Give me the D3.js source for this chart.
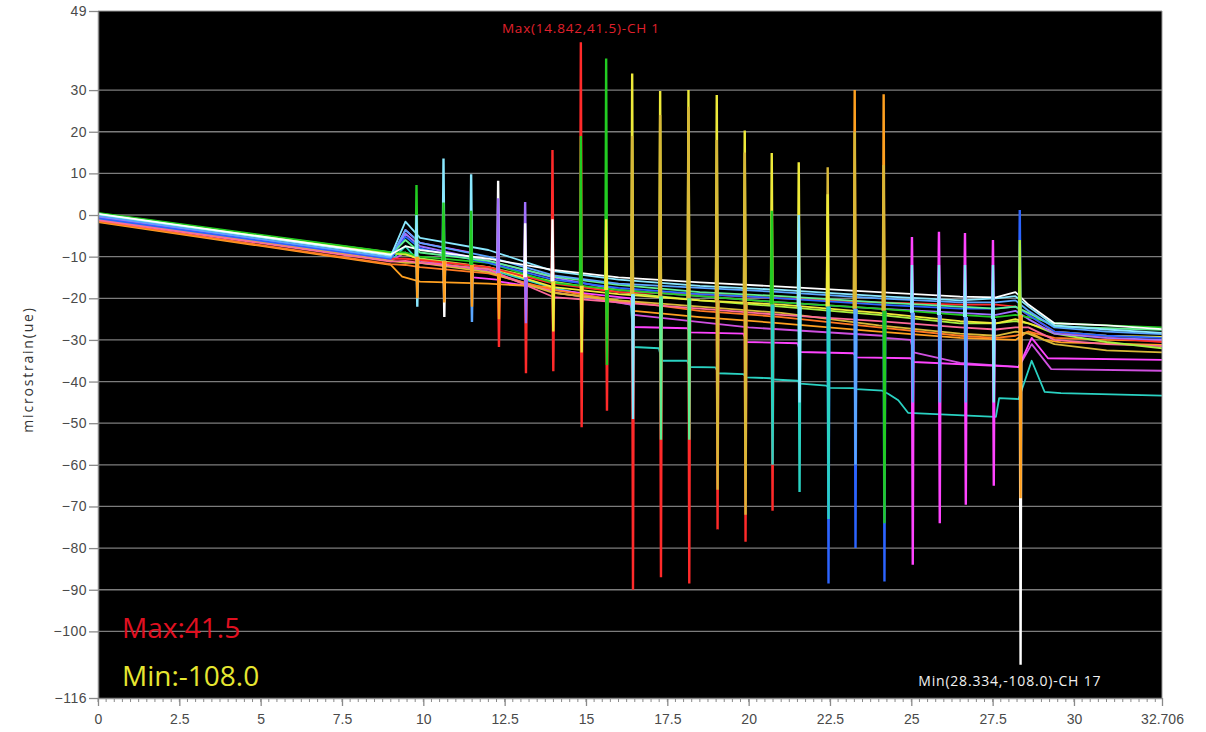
<!DOCTYPE html>
<html><head><meta charset="utf-8">
<script src="https://cdn.jsdelivr.net/npm/d3@7/dist/d3.min.js"></script>
<style>
body{margin:0;background:#fff;}
svg{display:block;font-family:"Open Sans","Noto Sans",sans-serif;}
</style>
</head><body>
<svg id="chart" width="1206" height="732"></svg>
<script>
// ---------- DATA ----------
const xTickValues = [0, 2.5, 5, 7.5, 10, 12.5, 15, 17.5, 20, 22.5, 25, 27.5, 30, 32.706];
const yTickValues = [49, 30, 20, 10, 0, -10, -20, -30, -40, -50, -60, -70, -80, -90, -100, -116];
const xDomain = [0, 32.706];
const yDomain = [-116, 49];

// baseline knots shared by the "band" channels (time, s)
const knotTimes = [0, 9.0, 9.45, 9.9, 12, 14, 16, 18.5, 21, 24, 26.5, 27.6, 28.2, 28.6, 29.4, 31, 32.706];
const ch1  = [-0.3, -10.5, -10.5, -10.8, -12.5, -16.5, -18.5, -19, -20, -21, -21.5, -21.5, -22, -24, -28, -29.5, -30.5];
const ch2  = [0.5, -8.9, -9, -10, -11.5, -16.3, -18, -19.5, -21, -22.5, -24, -24.5, -24, -24.5, -26, -26.5, -27];
const ch3  = [0.2, -9.0, -9.3, -10.8, -12.5, -17.3, -19, -20.5, -21.5, -23.5, -25.5, -26, -25, -26, -28, -29, -29.3];
const ch5  = [-0.8, -10.5, -5.2, -8, -11.5, -15.5, -17.5, -19, -20, -21.5, -22.5, -22.5, -22, -24, -28, -29, -29.5];
const ch9  = [-0.2, -10.2, -3.6, -6.7, -10, -14.5, -16.5, -17.5, -18.5, -20, -21, -21, -20.5, -23, -27, -28, -28.6];
const ch10 = [0.4, -9.2, -9.5, -10.4, -12.5, -16, -18.5, -20.5, -22, -24, -26, -26, -25.5, -26, -28.5, -30.5, -32];
const ch11 = [-1.2, -11.2, -11, -11.5, -13, -19.7, -21, -22.5, -24, -25.5, -27, -27.5, -27, -27, -30, -31, -31.5];
const ch12 = [-0.5, -10.3, -4.5, -7.5, -11, -15, -18, -19.5, -21, -22.5, -23.5, -24, -23, -25, -28.5, -29.5, -30];
const ch13 = [-1, -11, -11.5, -11.5, -13.7, -18.7, -20.5, -22, -23.5, -26.5, -28.5, -29, -28, -28.5, -31, -32.5, -33];
const ch14 = [0.2, -9.8, -1.6, -5.5, -8.4, -13.5, -15.5, -17, -18, -19.5, -20.5, -20, -19.5, -22, -26.5, -27.5, -28.3];
const ch15 = [-1.5, -11.8, -12, -12.5, -14, -18, -20.5, -23, -24.5, -27, -29, -29.5, -29, -28, -29.5, -30, -30.2];
const ch16 = [0, -9.6, -6, -9, -11, -14.8, -16.8, -18.5, -19.5, -21, -22, -22.5, -22, -23.5, -26.8, -27.2, -27.6];
const ch17 = [0.3, -9.5, -7.5, -8.4, -10.5, -13.2, -15, -16.2, -17.2, -18.5, -19.6, -19.8, -18.5, -21.5, -26, -26.5, -27.4];

// channels with their own step-like knots: [time, microstrain]
const ch4 = [[0,-1.7],[9.0,-12],[9.35,-14.8],[9.9,-16],[12,-16.5],[13.93,-17.3],[14.02,-18.7],[16.38,-21],[16.47,-23],[18.5,-24.5],[21,-26],[24,-28],[26.5,-29.5],[28.2,-30],[28.6,-28],[29.1,-30],[29.6,-30.6],[32.706,-31.2]];
const ch6 = [[0,-1],[9.0,-11],[9.45,-7.5],[9.9,-11.5],[12,-13],[14,-17.5],[16.38,-21.5],[16.47,-31.7],[17.24,-32],[17.33,-35],[18.11,-35],[18.2,-36.5],[18.98,-36.6],[19.07,-38],[19.84,-38.2],[19.93,-39],[20.67,-39.2],[20.76,-39.5],[21.5,-39.8],[21.59,-40.5],[22.39,-41],[22.48,-41.5],[23.22,-41.6],[23.31,-41.8],[24.11,-42.2],[24.3,-43],[24.6,-44.5],[24.9,-47.5],[27.6,-48.5],[27.7,-44],[28.3,-44.2],[28.7,-35],[29.1,-42.5],[29.6,-42.8],[32.706,-43.4]];
const ch7 = [[0,-0.8],[9.0,-10.6],[9.45,-3.6],[9.9,-6.7],[11.43,-9],[11.52,-15],[12.26,-15.5],[12.35,-16],[14,-18],[16.38,-20],[16.47,-26.9],[18.11,-27.2],[18.2,-28.2],[19.84,-28.5],[19.93,-30.5],[21.5,-30.8],[21.59,-32.9],[23.22,-33.2],[23.31,-34.2],[24.98,-34.4],[25.07,-35.3],[28.3,-36.5],[28.7,-29.5],[29.2,-34.4],[32.706,-34.8]];
const ch8 = [[0,-1],[9.0,-11],[9.45,-9],[9.9,-11],[12,-13.5],[14,-18.5],[16.38,-21.5],[16.47,-24],[20,-27],[24.11,-29],[24.2,-29.5],[24.98,-30],[25.07,-33],[26.5,-35.5],[28.3,-36.5],[28.7,-31],[29.3,-37],[32.706,-37.4]];

// spike events
const spikeTimes    = [9.79, 10.62, 11.47, 12.30, 13.13, 13.97, 14.842, 15.62, 16.42, 17.28, 18.15, 19.02, 19.88, 20.71, 21.54, 22.43, 23.26, 24.15, 25.02, 25.85, 26.65, 27.51, 28.334];
const spikeBase     = [-10, -11, -12, -14, -15, -16, -17, -18, -19, -19.5, -20, -20.5, -21, -21.5, -22, -22, -22.5, -23, -23.5, -24, -24.5, -25, -24];
const spikeTop      = [7.2, 13.6, 9.8, 8.2, 3.1, 15.6, 41.5, 37.6, 34.0, 29.8, 30.0, 28.8, 20.3, 14.9, 12.7, 11.5, 30.0, 29.0, -5.3, -4.0, -4.3, -6.0, 1.2];
const spikeTopCh    = [2, 14, 14, 17, 12, 1, 1, 2, 3, 3, 3, 3, 3, 3, 3, 13, 4, 4, 7, 7, 7, 7, 5];
const spikeTop2     = [0, 3, 1, 4, -2, -1, 19, -1, 19, 24, 26, 18, 15, 1, 0, 5, 20, 12, -12, -12, -12, -12, -6];
const spikeTop2Ch   = [14, 2, 2, 12, 17, 17, 2, 3, 13, 13, 13, 13, 13, 2, 14, 3, 13, 13, 14, 14, 14, 14, 10];
const spikeBottom   = [-22, -24.5, -25.7, -31.7, -38, -37.5, -51, -47, -90, -87, -88.5, -75.5, -78.5, -71, -66.5, -88.5, -80, -88, -84, -74, -69.6, -65, -108];
const spikeBottomCh = [14, 17, 9, 1, 1, 1, 1, 1, 1, 1, 1, 1, 1, 1, 6, 5, 5, 5, 7, 7, 7, 7, 17];
const spikeBottom2  = [-20, -21, -22, -25, -26, -28, -33, -36, -49, -54, -54, -66, -72, -60, -45, -73, -60, -74, -45, -45, -45, -45, -68];
const spikeBottom2Ch= [4, 4, 4, 4, 12, 3, 3, 2, 14, 16, 16, 13, 13, 6, 14, 6, 9, 2, 9, 9, 9, 14, 4];

const maxInfo = {t: 14.842, v: 41.5, ch: "CH 1"};
const minInfo = {t: 28.334, v: -108.0, ch: "CH 17"};

// ---------- STYLE ----------
const chColors = {
  1:"#ff2a2a", 2:"#22cc22", 3:"#eeea3a", 4:"#ffa020", 5:"#2c64ff", 6:"#2ad2c2",
  7:"#ff44ff", 8:"#d050e0", 9:"#5aa6ff", 10:"#a8f040", 11:"#ff6a9a", 12:"#a070ff",
  13:"#d8b838", 14:"#8ae8ff", 15:"#ff7a22", 16:"#60f090", 17:"#ffffff"
};
const plot = {left: 98, right: 1162, top: 11, bottom: 698};

// ---------- CHART ----------
const svg = d3.select("#chart");
const x = d3.scaleLinear().domain(xDomain).range([plot.left, plot.right]);
const y = d3.scaleLinear().domain(yDomain).range([plot.bottom, plot.top]);

svg.append("rect").attr("x", plot.left).attr("y", plot.top)
  .attr("width", plot.right - plot.left).attr("height", plot.bottom - plot.top)
  .attr("fill", "#000");

svg.append("defs").append("clipPath").attr("id", "clip").append("rect")
  .attr("x", plot.left).attr("y", plot.top)
  .attr("width", plot.right - plot.left).attr("height", plot.bottom - plot.top);

// grid
svg.append("g").selectAll("line")
  .data(yTickValues.filter(v => v !== 49 && v !== -116))
  .join("line")
  .attr("x1", plot.left).attr("x2", plot.right)
  .attr("y1", d => y(d)).attr("y2", d => y(d))
  .attr("stroke", "#7c7c7c").attr("stroke-width", 1.3);

const line = d3.line().x(d => x(d[0])).y(d => y(d[1]));
const g = svg.append("g").attr("clip-path", "url(#clip)");

const bandSeries = {1: ch1, 2: ch2, 3: ch3, 5: ch5, 9: ch9, 10: ch10, 11: ch11, 12: ch12, 13: ch13, 14: ch14, 15: ch15, 16: ch16, 17: ch17};
const series = [];
series.push({ch: 6, pts: ch6});
series.push({ch: 8, pts: ch8});
series.push({ch: 7, pts: ch7});
series.push({ch: 4, pts: ch4});
[15, 13, 11, 10, 3, 1, 12, 2, 5, 16, 9, 14, 17].forEach(c => {
  series.push({ch: c, pts: knotTimes.map((t, i) => [t, bandSeries[c][i]])});
});

g.selectAll("path.ch").data(series).join("path")
  .attr("class", "ch")
  .attr("d", d => line(d.pts))
  .attr("fill", "none")
  .attr("stroke", d => chColors[d.ch])
  .attr("stroke-width", 1.8)
  .attr("stroke-linejoin", "round");

// spikes
const sw = 0.025;
const leads = [], seconds = [];
spikeTimes.forEach((t, i) => {
  const b = spikeBase[i];
  leads.push({ch: spikeTopCh[i], pts: [[t - sw, b], [t, spikeTop[i]], [t + sw, b]]});
  leads.push({ch: spikeBottomCh[i], pts: [[t, b], [t + sw, spikeBottom[i]], [t + 2 * sw, b]]});
  seconds.push({ch: spikeTop2Ch[i], pts: [[t - sw, b], [t, spikeTop2[i]], [t + sw, b]]});
  seconds.push({ch: spikeBottom2Ch[i], pts: [[t, b], [t + sw, spikeBottom2[i]], [t + 2 * sw, b]]});
});
g.selectAll("path.lead").data(leads).join("path")
  .attr("class", "lead").attr("d", d => line(d.pts))
  .attr("fill", "none").attr("stroke", d => chColors[d.ch]).attr("stroke-width", 2.4);
g.selectAll("path.sec").data(seconds).join("path")
  .attr("class", "sec").attr("d", d => line(d.pts))
  .attr("fill", "none").attr("stroke", d => chColors[d.ch]).attr("stroke-width", 2.4);

// axes
const yAxis = d3.axisLeft(y).tickValues(yTickValues).tickSize(9).tickPadding(2).tickSizeOuter(0)
  .tickFormat(d3.format("d"));
const ya = svg.append("g").attr("transform", `translate(${plot.left},0)`).call(yAxis);
ya.select(".domain").attr("stroke", "#8a8a8a").attr("stroke-width", 1.5);
ya.selectAll(".tick line").attr("stroke", "#8a8a8a").attr("stroke-width", 1.3);
ya.selectAll("text").attr("fill", "#4a4a4a").attr("font-size", 14).attr("letter-spacing", 0.5);

const xAxis = d3.axisBottom(x).tickValues(xTickValues).tickSize(8).tickPadding(8).tickSizeOuter(0)
  .tickFormat(d => String(d));
const xa = svg.append("g").attr("transform", `translate(0,${plot.bottom})`).call(xAxis);
xa.select(".domain").attr("stroke", "#8a8a8a").attr("stroke-width", 1.5);
xa.selectAll(".tick line").attr("stroke", "#8a8a8a").attr("stroke-width", 1.3);
xa.selectAll("text").attr("fill", "#4a4a4a").attr("font-size", 14);

const minorTicks = d3.range(0, xDomain[1], 0.25);
svg.append("g").selectAll("line").data(minorTicks).join("line")
  .attr("x1", d => x(d)).attr("x2", d => x(d))
  .attr("y1", plot.bottom).attr("y2", plot.bottom + 4)
  .attr("stroke", "#8a8a8a").attr("stroke-width", 1);

// border
svg.append("line").attr("x1", plot.right).attr("x2", plot.right)
  .attr("y1", plot.top).attr("y2", plot.bottom).attr("stroke", "#9a9a9a").attr("stroke-width", 1);
svg.append("line").attr("x1", plot.left).attr("x2", plot.right)
  .attr("y1", plot.top).attr("y2", plot.top).attr("stroke", "#9a9a9a").attr("stroke-width", 1);

// y title
svg.append("text")
  .attr("transform", `translate(33,${(plot.top + plot.bottom) / 2 + 15}) rotate(-90)`)
  .attr("text-anchor", "middle").attr("font-size", 14).attr("letter-spacing", 1.8).attr("fill", "#333")
  .text("microstrain(ue)");

// annotations
svg.append("text").attr("x", x(maxInfo.t)).attr("y", y(maxInfo.v) - 9)
  .attr("text-anchor", "middle").attr("font-size", 13.5).attr("letter-spacing", 0.8).attr("fill", "#e0202c")
  .text(`Max(${maxInfo.t},${maxInfo.v.toFixed(1)})-${maxInfo.ch}`);
svg.append("text").attr("x", x(minInfo.t) - 10).attr("y", y(minInfo.v) + 21)
  .attr("text-anchor", "middle").attr("font-size", 14).attr("letter-spacing", 0.8).attr("fill", "#f2f2f2")
  .text(`Min(${minInfo.t},${minInfo.v.toFixed(1)})-${minInfo.ch}`);

svg.append("text").attr("x", plot.left + 24).attr("y", 638)
  .attr("font-size", 28).attr("fill", "#e01020")
  .text(`Max:${maxInfo.v.toFixed(1)}`);
svg.append("text").attr("x", plot.left + 24).attr("y", 686)
  .attr("font-size", 28).attr("fill", "#e6e630")
  .text(`Min:${minInfo.v.toFixed(1)}`);
</script>
</body></html>
